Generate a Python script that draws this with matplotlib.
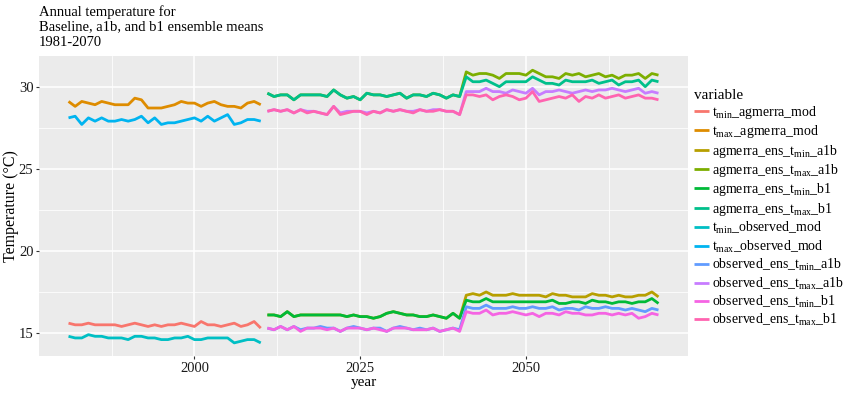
import numpy as np
import matplotlib
matplotlib.use("Agg")
from matplotlib import pyplot as plt

plt.rcParams['font.family'] = ['Liberation Serif', 'DejaVu Serif']
plt.rcParams['mathtext.fontset'] = 'custom'
plt.rcParams['mathtext.rm'] = 'Liberation Serif'
plt.rcParams['mathtext.it'] = 'Liberation Serif'

# years
base_years = np.arange(1981, 2011)
ens_years = np.arange(2011, 2071)

# baseline series 1981-2010
tmin_agmerra_mod = [15.6, 15.5, 15.5, 15.6, 15.5, 15.5, 15.5, 15.5, 15.4, 15.5,
                    15.6, 15.5, 15.4, 15.5, 15.4, 15.5, 15.5, 15.6, 15.5, 15.4,
                    15.7, 15.5, 15.5, 15.4, 15.5, 15.6, 15.4, 15.5, 15.7, 15.3]
tmax_agmerra_mod = [29.1, 28.8, 29.1, 29.0, 28.9, 29.1, 29.0, 28.9, 28.9, 28.9,
                    29.3, 29.2, 28.7, 28.7, 28.7, 28.8, 28.9, 29.1, 29.0, 29.0,
                    28.8, 29.0, 29.1, 28.9, 28.8, 28.8, 28.7, 29.0, 29.1, 28.9]
tmin_observed_mod = [14.8, 14.7, 14.7, 14.9, 14.8, 14.8, 14.7, 14.7, 14.7, 14.6,
                     14.8, 14.8, 14.7, 14.7, 14.6, 14.6, 14.7, 14.7, 14.8, 14.6,
                     14.6, 14.7, 14.7, 14.7, 14.7, 14.4, 14.5, 14.6, 14.6, 14.4]
tmax_observed_mod = [28.1, 28.2, 27.7, 28.1, 27.9, 28.1, 27.9, 27.9, 28.0, 27.9,
                     28.0, 28.2, 27.8, 28.1, 27.7, 27.8, 27.8, 27.9, 28.0, 28.1,
                     27.9, 28.2, 27.9, 28.1, 28.3, 27.7, 27.8, 28.0, 28.0, 27.9]

# ensemble series 2011-2070
agmerra_ens_tmin_a1b = [16.1, 16.1, 16.0, 16.3, 16.0, 16.1, 16.1, 16.1, 16.1, 16.1,
                        16.1, 16.1, 16.0, 16.1, 16.0, 16.0, 15.9, 16.0, 16.2, 16.3,
                        16.2, 16.1, 16.1, 16.0, 16.0, 16.1, 16.0, 15.9, 16.2, 15.9,
                        17.3, 17.4, 17.3, 17.5, 17.3, 17.3, 17.3, 17.4, 17.3, 17.3,
                        17.3, 17.3, 17.2, 17.4, 17.3, 17.3, 17.2, 17.2, 17.2, 17.4,
                        17.3, 17.3, 17.2, 17.3, 17.2, 17.2, 17.3, 17.3, 17.5, 17.2]
agmerra_ens_tmax_a1b = [29.6, 29.4, 29.5, 29.5, 29.2, 29.5, 29.5, 29.5, 29.5, 29.4,
                        29.8, 29.5, 29.3, 29.4, 29.2, 29.6, 29.5, 29.5, 29.4, 29.5,
                        29.6, 29.3, 29.5, 29.5, 29.4, 29.6, 29.5, 29.3, 29.5, 29.4,
                        30.9, 30.7, 30.8, 30.8, 30.7, 30.5, 30.8, 30.8, 30.8, 30.7,
                        31.0, 30.8, 30.6, 30.6, 30.5, 30.8, 30.7, 30.8, 30.6, 30.7,
                        30.8, 30.6, 30.7, 30.5, 30.7, 30.7, 30.8, 30.5, 30.8, 30.7]
agmerra_ens_tmin_b1 = [16.1, 16.1, 16.0, 16.3, 16.0, 16.1, 16.1, 16.1, 16.1, 16.1,
                       16.1, 16.1, 16.0, 16.1, 16.0, 16.0, 15.9, 16.0, 16.2, 16.3,
                       16.2, 16.1, 16.1, 16.0, 16.0, 16.1, 16.0, 15.9, 16.2, 15.9,
                       17.0, 16.9, 16.9, 17.1, 16.9, 16.9, 16.9, 16.9, 16.9, 16.9,
                       16.9, 16.9, 16.9, 17.0, 16.8, 16.8, 16.9, 16.9, 16.8, 17.0,
                       16.9, 16.9, 16.8, 16.9, 16.9, 16.8, 16.9, 16.9, 17.1, 16.8]
agmerra_ens_tmax_b1 = [29.6, 29.4, 29.5, 29.5, 29.2, 29.5, 29.5, 29.5, 29.5, 29.4,
                       29.8, 29.5, 29.3, 29.4, 29.2, 29.6, 29.5, 29.5, 29.4, 29.5,
                       29.6, 29.3, 29.5, 29.5, 29.4, 29.6, 29.5, 29.3, 29.5, 29.4,
                       30.6, 30.3, 30.3, 30.4, 30.2, 30.0, 30.3, 30.3, 30.3, 30.3,
                       30.6, 30.4, 30.2, 30.2, 30.1, 30.4, 30.3, 30.3, 30.3, 30.4,
                       30.2, 30.3, 30.4, 30.1, 30.3, 30.3, 30.4, 30.0, 30.4, 30.3]
observed_ens_tmin_a1b = [15.3, 15.2, 15.4, 15.2, 15.4, 15.2, 15.3, 15.3, 15.4, 15.3,
                         15.3, 15.1, 15.3, 15.4, 15.3, 15.2, 15.3, 15.3, 15.1, 15.3,
                         15.4, 15.3, 15.2, 15.3, 15.2, 15.3, 15.1, 15.2, 15.3, 15.2,
                         16.6, 16.5, 16.5, 16.7, 16.5, 16.5, 16.5, 16.6, 16.5, 16.5,
                         16.6, 16.5, 16.5, 16.6, 16.4, 16.5, 16.5, 16.4, 16.6, 16.5,
                         16.5, 16.6, 16.5, 16.5, 16.4, 16.5, 16.4, 16.3, 16.5, 16.4]
observed_ens_tmax_a1b = [28.5, 28.6, 28.5, 28.6, 28.4, 28.6, 28.5, 28.5, 28.4, 28.3,
                         28.8, 28.4, 28.5, 28.5, 28.5, 28.4, 28.5, 28.4, 28.6, 28.5,
                         28.6, 28.5, 28.5, 28.6, 28.5, 28.6, 28.6, 28.5, 28.5, 28.3,
                         29.7, 29.7, 29.7, 29.9, 29.7, 29.7, 29.6, 29.8, 29.7, 29.6,
                         29.9, 29.5, 29.7, 29.7, 29.8, 29.7, 29.6, 29.7, 29.8, 29.7,
                         29.8, 29.8, 29.9, 29.8, 29.7, 29.8, 29.9, 29.6, 29.7, 29.6]
observed_ens_tmin_b1 = [15.3, 15.2, 15.4, 15.2, 15.4, 15.1, 15.3, 15.3, 15.3, 15.2,
                        15.3, 15.1, 15.3, 15.3, 15.3, 15.2, 15.3, 15.2, 15.1, 15.3,
                        15.3, 15.3, 15.2, 15.2, 15.2, 15.3, 15.1, 15.2, 15.3, 15.1,
                        16.3, 16.2, 16.2, 16.4, 16.1, 16.2, 16.2, 16.3, 16.2, 16.1,
                        16.2, 16.0, 16.2, 16.2, 16.1, 16.3, 16.2, 16.2, 16.1, 16.1,
                        16.2, 16.2, 16.1, 16.2, 16.1, 16.2, 15.9, 16.0, 16.2, 16.1]
observed_ens_tmax_b1 = [28.5, 28.6, 28.5, 28.6, 28.4, 28.6, 28.4, 28.5, 28.4, 28.3,
                        28.8, 28.3, 28.4, 28.5, 28.5, 28.3, 28.5, 28.4, 28.6, 28.5,
                        28.6, 28.5, 28.4, 28.6, 28.5, 28.5, 28.6, 28.5, 28.5, 28.3,
                        29.5, 29.5, 29.4, 29.5, 29.2, 29.4, 29.5, 29.4, 29.2, 29.3,
                        29.7, 29.1, 29.2, 29.3, 29.4, 29.3, 29.5, 29.1, 29.4, 29.3,
                        29.5, 29.3, 29.4, 29.5, 29.3, 29.4, 29.5, 29.3, 29.3, 29.2]

labels = [r'$\mathregular{t_{min}}$_agmerra_mod',
          r'$\mathregular{t_{max}}$_agmerra_mod',
          r'agmerra_ens_$\mathregular{t_{min}}$_a1b',
          r'agmerra_ens_$\mathregular{t_{max}}$_a1b',
          r'agmerra_ens_$\mathregular{t_{min}}$_b1',
          r'agmerra_ens_$\mathregular{t_{max}}$_b1',
          r'$\mathregular{t_{min}}$_observed_mod',
          r'$\mathregular{t_{max}}$_observed_mod',
          r'observed_ens_$\mathregular{t_{min}}$_a1b',
          r'observed_ens_$\mathregular{t_{max}}$_a1b',
          r'observed_ens_$\mathregular{t_{min}}$_b1',
          r'observed_ens_$\mathregular{t_{max}}$_b1']
series = [(base_years, tmin_agmerra_mod), (base_years, tmax_agmerra_mod),
          (ens_years, agmerra_ens_tmin_a1b), (ens_years, agmerra_ens_tmax_a1b),
          (ens_years, agmerra_ens_tmin_b1), (ens_years, agmerra_ens_tmax_b1),
          (base_years, tmin_observed_mod), (base_years, tmax_observed_mod),
          (ens_years, observed_ens_tmin_a1b), (ens_years, observed_ens_tmax_a1b),
          (ens_years, observed_ens_tmin_b1), (ens_years, observed_ens_tmax_b1)]
# ggplot default hue palette for 12 levels
colors = ["#F8766D", "#DE8C00", "#B79F00", "#7CAE00", "#00BA38", "#00C08B",
          "#00BFC4", "#00B4F0", "#619CFF", "#C77CFF", "#F564E3", "#FF64B0"]

fig = plt.figure(figsize=(8.5, 3.94), dpi=100)
ax = fig.add_axes([0.0459, 0.0964, 0.7635, 0.7616])
ax.set_facecolor("#EBEBEB")
for s in ax.spines.values():
    s.set_visible(False)

for (x, y), c, lab in zip(series, colors, labels):
    ax.plot(x, y, color=c, lw=2.0, label=lab, solid_capstyle='butt')

ax.set_xlim(1976.55, 2074.45)
ax.set_ylim(13.6, 31.87)
ax.set_xticks([2000, 2025, 2050])
ax.set_xticks([1987.5, 2012.5, 2037.5, 2062.5], minor=True)
ax.set_yticks([15, 20, 25, 30])
ax.set_yticks([17.5, 22.5, 27.5], minor=True)
ax.grid(which='major', color='white', lw=1.1)
ax.grid(which='minor', color='white', lw=0.55)
ax.set_axisbelow(True)
ax.tick_params(which='major', length=2.5, color='#333333', labelsize=10.5,
               labelcolor='#1a1a1a', pad=1.5)
ax.tick_params(which='minor', length=0)
ax.set_xlabel("year", fontsize=11, labelpad=1)
ax.set_ylabel("Temperature (°C)", fontsize=11.5, labelpad=0)

fig.text(0.0459, 0.988, "Annual temperature for\nBaseline, a1b, and b1 ensemble means\n1981-2070",
         ha='left', va='top', fontsize=10.5, linespacing=1.2)

leg = ax.legend(loc='upper left', bbox_to_anchor=(1.0, 0.91), frameon=False,
                title='variable', fontsize=10, title_fontsize=11,
                handlelength=1.1, handletextpad=0.2, labelspacing=0.17,
                borderaxespad=0)
leg._legend_box.align = 'left'

fig.savefig("out.png", dpi=100)
